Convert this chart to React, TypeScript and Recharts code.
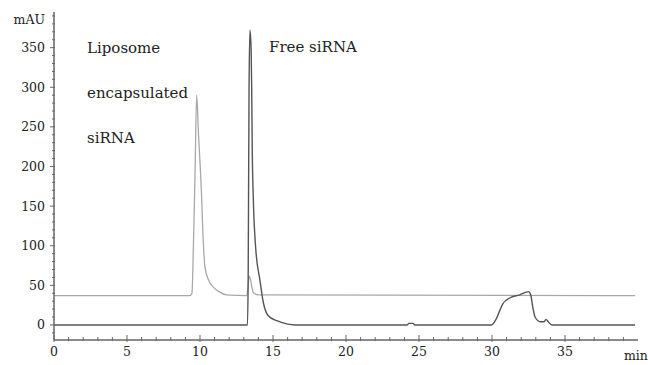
import { LineChart, Line, XAxis, YAxis } from 'recharts';

// liposome encapsulated trace (upper baseline)
const lipoTimes = [0, 9.3, 9.45, 9.55, 9.66, 9.77, 9.9, 10.1, 10.2, 10.34, 10.6, 10.9, 11.3, 11.8, 13.2, 13.3, 13.36, 13.45, 13.55, 13.65, 14.0, 39.8];
const lipoValues = [37, 37, 40, 100, 190, 290, 240, 167, 115, 73, 56, 48, 42, 38, 37, 50, 62, 58, 48, 41, 38, 37];

// free siRNA trace (zero baseline)
const freeTimes = [0, 13.25, 13.3, 13.36, 13.42, 13.5, 13.54, 13.58, 13.65, 13.81, 14.1, 14.34, 14.66, 15.3, 16.0, 16.5, 24.2, 24.3, 24.6, 24.7, 29.95, 30.3, 30.55, 30.75, 31.2, 31.9, 32.5, 32.65, 32.8, 32.95, 33.3, 33.55, 33.7, 33.85, 34.1, 39.8];
const freeValues = [0, 0, 60, 300, 372, 350, 300, 220, 160, 98, 57, 28, 12, 5, 1, 0, 0, 2, 2, 0, 0, 8, 19, 27, 34, 38, 42, 38, 22, 10, 4, 4, 7, 4, 0, 0];

const xTicks = Array.from({ length: 40 }, (_, i) => i);
const yTicks = Array.from({ length: 41 }, (_, i) => -10 + i * 10);
const xLabels = [0, 5, 10, 15, 20, 25, 30, 35];
const yLabels = [0, 50, 100, 150, 200, 250, 300, 350];

const lipoData = lipoTimes.map((t, i) => ({ t, v: lipoValues[i] }));
const freeData = freeTimes.map((t, i) => ({ t, v: freeValues[i] }));

const FONT = '"DejaVu Serif", serif';
const AXIS = '#666';
const TEXT = '#222';

const XTick = ({ x, y, payload }: any) => {
  const major = xLabels.includes(payload.value);
  return (
    <g>
      <line x1={x} x2={x} y1={major ? y - 5 : y - 3} y2={major ? y + 2 : y + 1} stroke={AXIS} strokeWidth={1} />
      {major && (
        <text x={x} y={y + 16} textAnchor="middle" fontSize={12.5} fontFamily={FONT} fill={TEXT}>
          {payload.value}
        </text>
      )}
    </g>
  );
};

const YTick = ({ x, y, payload }: any) => {
  const major = yLabels.includes(payload.value);
  return (
    <g>
      <line x1={major ? x - 4 : x - 2} x2={x + 1} y1={y} y2={y} stroke={AXIS} strokeWidth={1} />
      {major && (
        <text x={x - 9} y={y + 4.5} textAnchor="end" fontSize={12.5} fontFamily={FONT} fill={TEXT}>
          {payload.value}
        </text>
      )}
    </g>
  );
};

export default function App() {
  return (
    <div style={{ position: 'absolute', left: 0, top: 0, width: 648, height: 365, background: '#fff' }}>
      <LineChart width={648} height={365} margin={{ top: 12, right: 10, left: 0, bottom: 0 }}>
        <XAxis
          type="number"
          dataKey="t"
          domain={[0, 40]}
          ticks={xTicks}
          interval={0}
          tick={<XTick />}
          tickSize={0}
          tickMargin={0}
          height={25}
          axisLine={{ stroke: AXIS, strokeWidth: 1.5 }}
          allowDataOverflow
        />
        <YAxis
          type="number"
          domain={[-19, 395]}
          ticks={yTicks}
          interval={0}
          tick={<YTick />}
          tickSize={0}
          tickMargin={0}
          width={54}
          axisLine={{ stroke: AXIS, strokeWidth: 1.5 }}
          allowDataOverflow
        />
        <Line data={lipoData} dataKey="v" type="monotone" stroke="#a8a8a8" strokeWidth={1.3} dot={false} isAnimationActive={false} />
        <Line data={freeData} dataKey="v" type="monotone" stroke="#555" strokeWidth={1.4} dot={false} isAnimationActive={false} />
        <text x={45} y={24} textAnchor="end" fontSize={12.5} fontFamily={FONT} fill={TEXT}>mAU</text>
        <text x={624} y={360} fontSize={12.5} fontFamily={FONT} fill={TEXT}>min</text>
        <text x={87} y={53} fontSize={15} fontFamily={FONT} fill={TEXT}>Liposome</text>
        <text x={87} y={98} fontSize={15} fontFamily={FONT} fill={TEXT}>encapsulated</text>
        <text x={87} y={143} fontSize={15} fontFamily={FONT} fill={TEXT}>siRNA</text>
        <text x={269} y={52} fontSize={15} fontFamily={FONT} fill={TEXT}>Free siRNA</text>
      </LineChart>
    </div>
  );
}
